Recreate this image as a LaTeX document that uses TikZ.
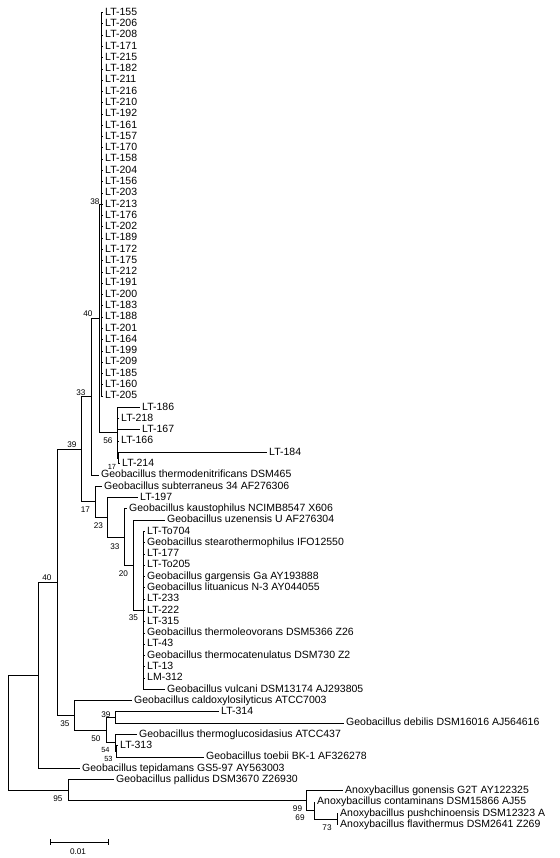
\documentclass[tikz,border=0pt]{standalone}
\usepackage{fontspec}
\setmainfont{Liberation Sans}
\tikzset{
  branch/.style={line width=0.8pt, draw=black},
  leaf/.style={anchor=west, inner sep=2pt, font=\fontsize{10.5}{12}\selectfont, text height=7pt, text depth=1.5pt},
  bs/.style={inner sep=0pt, font=\fontsize{8.2}{9}\selectfont},
  bssmall/.style={bs, font=\fontsize{7.4}{8}\selectfont},
}
\begin{document}
\begin{tikzpicture}[x=1pt, y=-11.28pt]
  \useasboundingbox (0,-1.108) rectangle (560,74.956);
  % internal nodes
  \coordinate (root) at (8,63.85);
  \coordinate (n38)  at (38,58.76);
  \coordinate (n57)  at (57,50.52);
  \coordinate (n81)  at (81,38.72);
  \coordinate (n91)  at (91,34.0625);
  \coordinate (n99)  at (99,27.125);
  \coordinate (nTop) at (101,17);
  \coordinate (n56)  at (117.5,37.25);
  \coordinate (n17a) at (118.5,39.5);
  \coordinate (n17b) at (95,43.375);
  \coordinate (n23)  at (107,44.75);
  \coordinate (n33b) at (124,46.5);
  \coordinate (n20)  at (133,49);
  \coordinate (n35)  at (143,53);
  \coordinate (n35b) at (74,62.3125);
  \coordinate (n50)  at (106,63.625);
  \coordinate (n39b) at (115,62.5);
  \coordinate (n54)  at (115,64.75);
  \coordinate (n53)  at (116.5,65.5);
  \coordinate (n95)  at (68,68.9375);
  \coordinate (nA99) at (306,69.875);
  \coordinate (nA69) at (314,70.75);
  \coordinate (nA73) at (337,71.5);

  \foreach \lab [count=\k from 0] in {155,206,208,171,215,182,211,216,210,192,161,157,170,158,204,156,203,213,176,202,189,172,175,212,191,200,183,188,201,164,199,209,185,160,205}{
    \node[leaf] (t\k) at (103,\k) {LT-\lab};
    \draw[branch] (nTop) |- (t\k.west);
  }

  \node[leaf] (l35) at (140,35) {LT-186};
  \node[leaf] (l36) at (119,36) {LT-218};
  \node[leaf] (l37) at (140,37) {LT-167};
  \node[leaf] (l38) at (119,38) {LT-166};
  \node[leaf] (l39) at (267,39) {LT-184};
  \node[leaf] (l40) at (120,40) {LT-214};
  \node[leaf] (l41) at (99,41) {Geobacillus thermodenitrificans DSM465};
  \node[leaf] (l42) at (102,42) {Geobacillus subterraneus 34 AF276306};
  \node[leaf] (l43) at (138,43) {LT-197};
  \node[leaf] (l44) at (127,44) {Geobacillus kaustophilus NCIMB8547 X606};
  \node[leaf] (l45) at (165,45) {Geobacillus uzenensis U AF276304};
  \foreach \k/\lname in {46/LT-To704,47/Geobacillus stearothermophilus IFO12550,48/LT-177,49/LT-To205,50/Geobacillus gargensis Ga AY193888,51/Geobacillus lituanicus N-3 AY044055,52/LT-233,53/LT-222,54/LT-315,55/Geobacillus thermoleovorans DSM5366 Z26,56/LT-43,57/Geobacillus thermocatenulatus DSM730 Z2,58/LT-13,59/LM-312}{
    \node[leaf] (l\k) at (145,\k) {\lname};
    \draw[branch] (n35) |- (l\k.west);
  }
  \node[leaf] (l60) at (165,60) {Geobacillus vulcani DSM13174 AJ293805};
  \node[leaf] (l61) at (132,61) {Geobacillus caldoxylosilyticus ATCC7003};
  \node[leaf] (l62) at (219,62) {LT-314};
  \node[leaf] (l63) at (344,63) {Geobacillus debilis DSM16016 AJ564616};
  \node[leaf] (l64) at (137,64) {Geobacillus thermoglucosidasius ATCC437};
  \node[leaf] (l65) at (118,65) {LT-313};
  \node[leaf] (l66) at (204,66) {Geobacillus toebii BK-1 AF326278};
  \node[leaf] (l67) at (80,67) {Geobacillus tepidamans GS5-97 AY563003};
  \node[leaf] (l68) at (114,68) {Geobacillus pallidus DSM3670 Z26930};
  \node[leaf] (l69) at (343,69) {Anoxybacillus gonensis G2T AY122325};
  \node[leaf] (l70) at (315,70) {Anoxybacillus contaminans DSM15866 AJ55};
  \node[leaf] (l71) at (338,71) {Anoxybacillus pushchinoensis DSM12323 A};
  \node[leaf] (l72) at (338,72) {Anoxybacillus flavithermus DSM2641 Z269};

  \foreach \a/\b in {root/n38,root/n95,n38/n57,n57/n81,n57/n35b,n81/n91,n81/n17b,n91/n99,n99/nTop,n99/n56,n56/n17a,n17b/n23,n23/n33b,n33b/n20,n20/n35,n35b/n50,n50/n39b,n50/n54,n54/n53,n95/nA99,nA99/nA69,nA69/nA73}{
    \draw[branch] (\a) |- (\b);
  }
  \foreach \a/\b in {n38/l67,n91/l41,n56/l35,n56/l36,n56/l37,n56/l38,n17a/l39,n17a/l40,n17b/l42,n23/l43,n33b/l44,n20/l45,n35/l60,n35b/l61,n39b/l62,n39b/l63,n54/l64,n53/l65,n53/l66,n95/l68,nA99/l69,nA69/l70,nA73/l71,nA73/l72}{
    \draw[branch] (\a) |- (\b.west);
  }

  \foreach \x/\y/\v [count=\j] in {95/16.8/38,88/26.73/40,81/33.73/33,72/38.34/39,108/37.99/56,85.5/44.1/17,98.5/45.52/23,115/47.39/33,123.5/49.78/20,133.5/53.68/35,47/50.13/40,65/63.08/35,106/62.28/39,96/64.41/50,58/69.72/95,297.5/70.61/99,300/71.41/69,327/72.3/73}{
    \node[bs] (bs\j) at (\x,\y) {\v};
  }
  \node[bssmall] (bs17a) at (112,40.3) {17};
  \node[bssmall] (bs54) at (105.5,65.4) {54};
  \node[bssmall] (bs53) at (108.5,66.2) {53};

  \coordinate (sbL) at (50,73.54);
  \coordinate (sbR) at (108,73.54);
  \draw[branch] (sbL) -- (sbR);
  \draw[branch] ([yshift=3pt]sbL) -- ([yshift=-3pt]sbL);
  \draw[branch] ([yshift=3pt]sbR) -- ([yshift=-3pt]sbR);
  \node[bs] (sbtext) at (78,74.4) {0.01};
\end{tikzpicture}
\end{document}
